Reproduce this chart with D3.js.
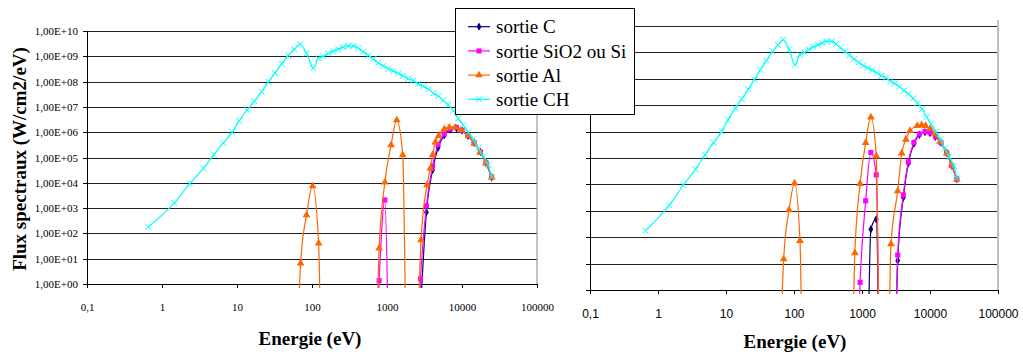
<!DOCTYPE html>
<meta charset="utf-8">
<style>
body { margin: 0; background: #fff; }
svg { display: block; }
.grid line { stroke: #222; shape-rendering: crispEdges; }
.axis path, .axis line { stroke: #000; shape-rendering: crispEdges; }
.axisL text { font: 11px "Liberation Serif", "Times New Roman", serif; fill: #000; }
.axisR text { font: 12px "Liberation Sans", Arial, sans-serif; fill: #000; }
.title { font: bold 19px "Liberation Serif", "Times New Roman", serif; fill: #000; }
.legend text { font: 19px "Liberation Serif", "Times New Roman", serif; fill: #000; }
</style>
<body>
<script src="https://d3js.org/d3.v7.min.js"></script>
<script>

var fluxTicks = [1e0, 1e1, 1e2, 1e3, 1e4, 1e5, 1e6, 1e7, 1e8, 1e9, 1e10];
var energyTicks = [0.1, 1, 10, 100, 1000, 10000, 100000];

var seriesNames = ["sortie C", "sortie SiO2 ou Si", "sortie Al", "sortie CH"];
var seriesColors = ["#000080", "#ff00ff", "#ff6600", "#00ffff"];

// sortie CH (same spectrum on both charts)
var chEnergy = [0.656, 1.46, 2.36, 3.56, 4.93, 6.56, 8.65, 10.7, 13.7, 17.0, 21.3, 26.2, 32.1, 39.4, 48.3,
    58.1, 69.2, 84.9, 104, 121, 142, 165, 192, 224, 261, 305, 356, 414, 483, 564, 656, 766, 893, 1040, 1213,
    1416, 1648, 1923, 2244, 2612, 3048, 3556, 4140, 4830, 5636, 6561, 7656, 8933, 10400, 12130, 14160,
    16480, 19230, 22440, 24900];
var chFlux = [1.8e2, 1.6e3, 9.5e3, 3.7e4, 1.3e5, 3.8e5, 1.0e6, 2.8e6, 7.6e6, 1.7e7, 4.0e7, 9.5e7, 2.2e8, 5.0e8, 1.1e9,
    1.9e9, 3.0e9, 1.3e9, 3.4e8, 8.3e8, 1.0e9, 1.3e9, 1.6e9, 1.9e9, 2.3e9, 2.6e9, 2.6e9, 2.1e9, 1.5e9, 1.1e9, 7.8e8, 5.6e8, 4.2e8, 3.2e8, 2.6e8,
    2.1e8, 1.7e8, 1.3e8, 1.1e8, 8.1e7, 6.6e7, 5.0e7, 3.5e7, 2.7e7, 1.8e7, 1.2e7, 7.2e6, 3.5e6, 1.9e6, 1.0e6, 5.2e5,
    2.3e5, 1.1e5, 5.0e4, 1.7e4];

// low energy peaks (0 = below 1 W/cm2/eV)
var energyLow = [58, 70.5, 84.5, 102, 122.5, 140, 660, 785, 937, 1132, 1350, 1620, 1900];
var alLeftLow   = [0, 6.6, 537, 7400, 41, 0, 0, 26, 10500, 310000, 3.0e6, 126000, 0];
var sioLeftLow  = [0, 0, 0, 0, 0, 0, 0, 1.35, 2100, 0, 0, 0, 0];
var cLeftLow    = [0, 0, 0, 0, 0, 0, 0, 0, 0, 0, 0, 0, 0];
var alRightLow  = [0, 15, 1070, 11000, 74, 0, 0, 25, 10500, 380000, 3.5e6, 120000, 0];
var sioRightLow = [0, 0, 0, 0, 0, 0, 0, 0, 1.95, 2400, 162000, 23000, 0];
var cRightLow   = [0, 0, 0, 0, 0, 0, 0, 0, 0, 0, 200, 480, 0];

// high energy peak
var energyHigh = [2300, 2800, 3350, 4050, 4800, 5800, 7000, 8450, 10000, 12000, 14500, 17600, 20900, 24800];
var sioLeftHigh  = [0, 1.6, 1230, 46000, 330000, 850000, 1.35e6, 1.55e6, 1.2e6, 740000, 380000, 166000, 62000, 16600];
var cLeftHigh    = [0, 0.1, 680, 32000, 245000, 760000, 1.26e6, 1.41e6, 1.15e6, 720000, 380000, 166000, 62000, 16600];
var sioRightHigh = [0, 0, 21, 4000, 72000, 390000, 810000, 1.0e6, 910000, 650000, 380000, 158000, 51000, 15800];
var cRightHigh   = [0, 0, 13, 3200, 63000, 350000, 760000, 950000, 870000, 630000, 380000, 158000, 51000, 15800];

var alLeftHighEnergy = [2290, 2840, 3410, 3780, 4060, 4410, 4890, 5810, 6780, 8130, 9770, 12300, 14600, 17400, 20900, 24900];
var alLeftHigh = [0, 55, 8100, 37000, 126000, 400000, 720000, 1.35e6, 1.55e6, 1.55e6, 1.23e6, 720000, 360000, 162000, 59000, 16600];
var alRightHighEnergy = [2290, 2670, 3350, 3840, 4420, 5080, 6500, 7550, 8630, 10000, 11900, 14000, 17600, 20800, 24700];
var alRightHigh = [0, 55, 5600, 151000, 500000, 1.07e6, 1.66e6, 1.78e6, 1.66e6, 1.32e6, 810000, 420000, 151000, 54000, 15500];

function pairs(E, F) { return E.map(function(e, i) { return [e, F[i]]; }); }

var charts = [
    {x0: 87, x1: 537, y0: 284, y1: 31, labels: true, cls: "axisL", titleX: 310, titleY: 345,
     border: "#888", borderW: 1, borderTop: 31,
     series: [pairs(energyLow.concat(energyHigh), cLeftLow.concat(cLeftHigh)),
              pairs(energyLow.concat(energyHigh), sioLeftLow.concat(sioLeftHigh)),
              pairs(energyLow.concat(alLeftHighEnergy), alLeftLow.concat(alLeftHigh)),
              pairs(chEnergy, chFlux)]},
    {x0: 590, x1: 998, y0: 290, y1: 26, labels: false, cls: "axisR", titleX: 795, titleY: 348,
     border: "#c0c0c0", borderW: 2, borderTop: 20,
     series: [pairs(energyLow.concat(energyHigh), cRightLow.concat(cRightHigh)),
              pairs(energyLow.concat(energyHigh), sioRightLow.concat(sioRightHigh)),
              pairs(energyLow.concat(alRightHighEnergy), alRightLow.concat(alRightHigh)),
              pairs(chEnergy, chFlux)]}
];

var svg = d3.select("body").append("svg")
    .attr("width", 1023)
    .attr("height", 356);

var defs = svg.append("defs");
defs.append("clipPath").attr("id", "labclip")
    .append("rect").attr("x", 35).attr("y", 0).attr("width", 600).attr("height", 356);

// marker shapes
function marker(sel, i, color) {
    if (i == 3) {
        sel.append("path").attr("d", "M-3,-3L3,3M-3,3L3,-3")
            .attr("stroke", color).attr("stroke-width", 1).attr("fill", "none");
    } else {
        var type = [d3.symbolDiamond, d3.symbolSquare, d3.symbolTriangle][i];
        var size = [20, 26, 26][i];
        sel.append("path").attr("d", d3.symbol().type(type).size(size)())
            .attr("fill", color);
    }
}

function fmtFlux(d) {
    var e = Math.round(Math.log10(d));
    return "1,00E+" + (e < 10 ? "0" + e : e);
}

charts.forEach(function(c, ci) {
    var x = d3.scaleLog().domain([0.1, 1e5]).range([c.x0, c.x1]);
    var y = d3.scaleLog().domain([1, 1e10]).range([c.y0, c.y1]);

    // gridlines
    svg.append("g").attr("class", "grid")
        .selectAll("line").data(fluxTicks.slice(1)).join("line")
        .attr("x1", c.x0).attr("x2", c.x1)
        .attr("y1", function(d) { return Math.round(y(d)) + 0.5; })
        .attr("y2", function(d) { return Math.round(y(d)) + 0.5; });

    // right border of plot area
    svg.append("line")
        .attr("x1", c.x1).attr("x2", c.x1).attr("y1", c.borderTop).attr("y2", c.y0)
        .attr("stroke", c.border).attr("stroke-width", c.borderW);

    svg.append("g")
        .attr("class", "axis " + c.cls)
        .attr("transform", "translate(0," + c.y0 + ")")
        .call(d3.axisBottom(x).tickValues(energyTicks)
            .tickFormat(function(d) { return d < 1 ? "0,1" : String(d); })
            .tickSize(4).tickPadding(15).tickSizeOuter(0));

    var yWrap = svg.append("g");
    if (c.labels) yWrap.attr("clip-path", "url(#labclip)");
    yWrap.append("g")
        .attr("class", "axis " + c.cls)
        .attr("transform", "translate(" + c.x0 + ",0)")
        .call(d3.axisLeft(y).tickValues(fluxTicks)
            .tickFormat(c.labels ? fmtFlux : "")
            .tickSize(4).tickPadding(5).tickSizeOuter(0));

    // axis lines
    svg.append("line")
        .attr("x1", c.x0).attr("x2", c.x1).attr("y1", c.y0 + 0.5).attr("y2", c.y0 + 0.5)
        .attr("stroke", "#000").style("shape-rendering", "crispEdges");
    svg.append("line")
        .attr("x1", c.x0 + 0.5).attr("x2", c.x0 + 0.5).attr("y1", c.y1).attr("y2", c.y0)
        .attr("stroke", "#000").style("shape-rendering", "crispEdges");

    // plot clip
    defs.append("clipPath").attr("id", "plot" + ci)
        .append("rect").attr("x", c.x0 - 4).attr("y", c.y1 - 6)
        .attr("width", c.x1 - c.x0 + 8).attr("height", c.y0 - c.y1 + 10);

    var plot = svg.append("g").attr("clip-path", "url(#plot" + ci + ")");

    var line = d3.line()
        .x(function(d) { return x(d[0]); })
        .y(function(d) { return y(Math.max(d[1], 1e-6)); })
        .curve(d3.curveMonotoneX);

    c.series.forEach(function(s, i) {
        plot.append("path")
            .datum(s)
            .attr("d", line)
            .attr("fill", "none")
            .attr("stroke", seriesColors[i])
            .attr("stroke-width", 1.2);

        var pts = s.filter(function(d) { return d[1] > 0; });
        plot.selectAll(".m" + i).data(pts).join("g")
            .attr("class", "m" + i)
            .attr("transform", function(d) { return "translate(" + x(d[0]) + "," + y(d[1]) + ")"; })
            .each(function() { marker(d3.select(this), i, seriesColors[i]); });
    });

    svg.append("text")
        .attr("class", "title")
        .attr("x", c.titleX).attr("y", c.titleY)
        .attr("text-anchor", "middle")
        .text("Energie (eV)");
});

// y title
svg.append("text")
    .attr("class", "title")
    .attr("transform", "translate(26,159) rotate(-90)")
    .attr("text-anchor", "middle")
    .text("Flux spectraux (W/cm2/eV)");

// legend
var legend = svg.append("g").attr("class", "legend");
legend.append("rect")
    .attr("x", 455.5).attr("y", 8.5).attr("width", 179).attr("height", 106)
    .attr("fill", "#fff").attr("stroke", "#000");

seriesNames.forEach(function(name, i) {
    var g = legend.append("g").attr("transform", "translate(0," + (26.7 + i * 24.2) + ")");
    g.append("line").attr("x1", 468).attr("x2", 490).attr("y1", 0).attr("y2", 0)
        .attr("stroke", seriesColors[i]).attr("stroke-width", 1.2);
    var m = g.append("g").attr("transform", "translate(479,0)");
    marker(m, i, seriesColors[i]);
    g.append("text").attr("x", 496).attr("y", 0).attr("dy", "0.35em").text(name);
});

</script>
